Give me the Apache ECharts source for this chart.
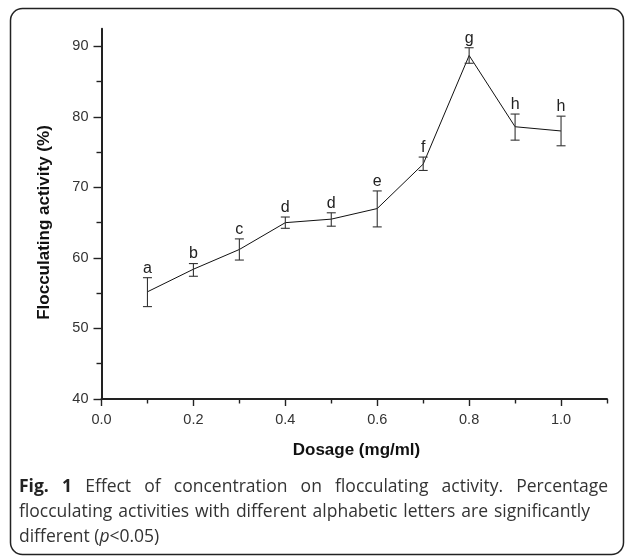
<!doctype html>
<html>
	<head>
		<meta charset="utf-8">
		<title>Flocculating activity vs dosage</title>
		<script src="https://cdn.jsdelivr.net/npm/echarts@6/dist/echarts.min.js"></script>
		<style>
			html, body { margin: 0; padding: 0; background: #fff; }
		</style>
	</head>
	<body>
		<div id="chart" style="width: 627px; height: 559px;"></div>
		<script>
			// values
			let dosage   = [0.1, 0.2, 0.3, 0.4, 0.5, 0.6, 0.7, 0.8, 0.9, 1.0];
			let activity = [55.2, 58.4, 61.2, 65.0, 65.5, 67.0, 73.3, 88.7, 78.6, 78.0];
			let errLow   = [53.1, 57.4, 59.7, 64.2, 64.5, 64.4, 72.4, 87.6, 76.7, 75.9];
			let errHigh  = [57.2, 59.2, 62.7, 65.8, 66.4, 69.5, 74.3, 89.8, 80.4, 80.1];
			let letters  = ["a", "b", "c", "d", "d", "e", "f", "g", "h", "h"];

			let xMajor = [0, 0.2, 0.4, 0.6, 0.8, 1.0];
			let xMinor = [0.1, 0.3, 0.5, 0.7, 0.9, 1.1];
			let yMajor = [40, 50, 60, 70, 80, 90];
			let yMinor = [45, 55, 65, 75, 85];

			let captionLines = [
				["Fig.", "1", "Effect", "of", "concentration", "on", "flocculating", "activity.", "Percentage"],
				["flocculating", "activities", "with", "different", "alphabetic", "letters", "are", "significantly"],
			];

			const axisColor = "#222";
			const textColor = "#333";
			const sansFont = "'Liberation Sans', Arial, sans-serif";
			const capFont = "'Open Sans', sans-serif";
			const capSize = 17.5;

			// justify a caption line between x0 and x1 by measuring each word
			let measureCtx = document.createElement("canvas").getContext("2d");
			function justify(words, y, x0, x1, boldCount) {
				let fonts = words.map((w, i) => (i < boldCount ? "bold " : "normal ") + capSize + "px " + capFont);
				let widths = words.map((w, i) => {
					measureCtx.font = fonts[i];
					return measureCtx.measureText(w).width;
				});
				let total = widths.reduce((a, b) => a + b, 0);
				let gap = (x1 - x0 - total) / (words.length - 1);
				let x = x0;
				return words.map((w, i) => {
					let el = {
						type: "text",
						x: x,
						y: y,
						style: {
							text: w,
							font: fonts[i],
							fill: i < boldCount ? "#222" : textColor,
							verticalAlign: "middle",
						},
					};
					x += widths[i] + gap;
					return el;
				});
			}

			let dom = document.getElementById("chart");
			let myChart = echarts.init(dom, null, { width: 627, height: 559 });

			let opts = {
				animation: false,
				backgroundColor: "#fff",
				grid: {
					left: 101.5,
					right: 20,
					top: 28.7,
					bottom: 160,
				},
				xAxis: [
					{
						type: "value",
						min: 0,
						max: 1.1,
						position: "bottom",
						splitLine: { show: false },
						axisLine: { onZero: false, lineStyle: { color: axisColor, width: 2 } },
						axisTick: { customValues: xMajor, length: 7, lineStyle: { color: axisColor, width: 1.4 } },
						axisLabel: {
							customValues: xMajor,
							formatter: (v) => v.toFixed(1),
							color: textColor,
							fontFamily: sansFont,
							fontSize: 14.5,
							margin: 13,
						},
					},
					{
						type: "value",
						min: 0,
						max: 1.1,
						position: "bottom",
						splitLine: { show: false },
						axisLine: { show: false, onZero: false },
						axisTick: { customValues: xMinor, length: 4.5, lineStyle: { color: axisColor, width: 1.4 } },
						axisLabel: { show: false },
					},
				],
				yAxis: [
					{
						type: "value",
						min: 40,
						max: 92.5,
						position: "left",
						splitLine: { show: false },
						axisLine: { show: true, onZero: false, lineStyle: { color: axisColor, width: 2 } },
						axisTick: { customValues: yMajor, length: 8, lineStyle: { color: axisColor, width: 1.4 } },
						axisLabel: {
							customValues: yMajor,
							color: textColor,
							fontFamily: sansFont,
							fontSize: 14.5,
							margin: 13,
						},
					},
					{
						type: "value",
						min: 40,
						max: 92.5,
						position: "left",
						splitLine: { show: false },
						axisLine: { show: false, onZero: false },
						axisTick: { customValues: yMinor, length: 5, lineStyle: { color: axisColor, width: 1.4 } },
						axisLabel: { show: false },
					},
				],
				series: [
					{
						type: "line",
						data: dosage.map((x, i) => [x, activity[i]]),
						showSymbol: false,
						lineStyle: { color: "#111", width: 1 },
						z: 3,
					},
					{
						type: "custom",
						data: dosage.map((x, i) => [x, errLow[i], errHigh[i]]),
						z: 4,
						renderItem: (params, api) => {
							let x = api.value(0);
							let top = api.coord([x, api.value(2)]);
							let bot = api.coord([x, api.value(1)]);
							let hw = 4.5;
							let ls = { stroke: "#333", lineWidth: 1.1 };
							return {
								type: "group",
								children: [
									{ type: "line", shape: { x1: top[0], y1: top[1], x2: bot[0], y2: bot[1] }, style: ls },
									{ type: "line", shape: { x1: top[0] - hw, y1: top[1], x2: top[0] + hw, y2: top[1] }, style: ls },
									{ type: "line", shape: { x1: bot[0] - hw, y1: bot[1], x2: bot[0] + hw, y2: bot[1] }, style: ls },
									{
										type: "text",
										x: top[0],
										y: top[1] - 1.5,
										style: {
											text: letters[params.dataIndex],
											fill: "#222",
											font: "16px " + sansFont,
											align: "center",
											verticalAlign: "bottom",
										},
									},
								],
							};
						},
					},
				],
				graphic: [
					{
						type: "rect",
						shape: { x: 10.5, y: 8.5, width: 613, height: 546, r: 12 },
						style: { fill: "none", stroke: "#222", lineWidth: 1.5 },
						silent: true,
					},
					{
						type: "text",
						x: 44,
						y: 222.5,
						rotation: Math.PI / 2,
						style: {
							text: "Flocculating activity (%)",
							font: "bold 17px " + sansFont,
							fill: "#111",
							align: "center",
							verticalAlign: "middle",
						},
					},
					{
						type: "text",
						x: 356.5,
						y: 450,
						style: {
							text: "Dosage (mg/ml)",
							font: "bold 17px " + sansFont,
							fill: "#111",
							align: "center",
							verticalAlign: "middle",
						},
					},
					...justify(captionLines[0], 487, 19, 608, 2),
					...justify(captionLines[1], 512, 19, 590, 0),
					{
						type: "text",
						x: 19,
						y: 537,
						style: {
							text: "different ({i|p}<0.05)",
							font: capSize + "px " + capFont,
							fill: textColor,
							verticalAlign: "middle",
							rich: {
								i: { fontStyle: "italic", fontFamily: capFont, fontSize: capSize, fill: textColor },
							},
						},
					},
				],
			};

			myChart.setOption(opts, { notMerge: true });
		</script>
	</body>
</html>
